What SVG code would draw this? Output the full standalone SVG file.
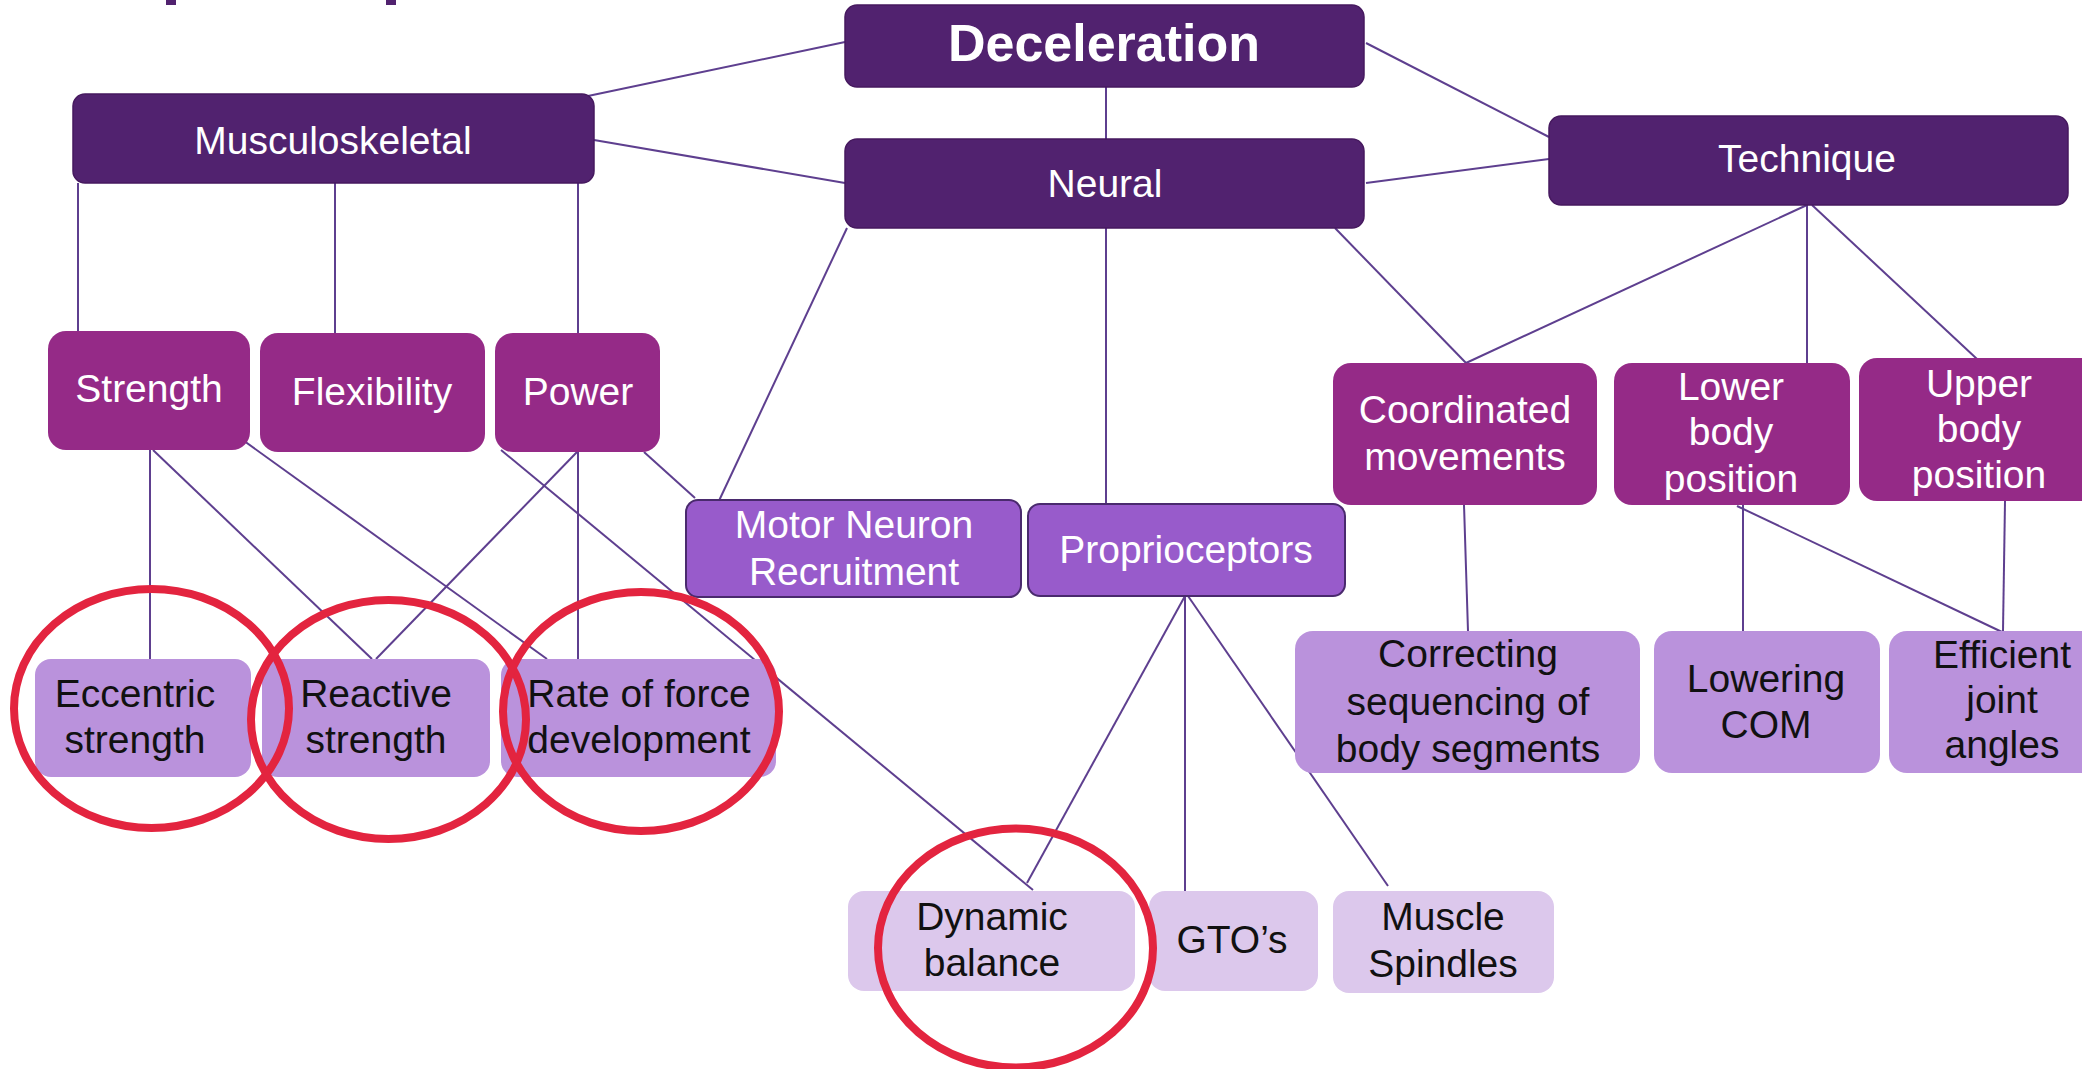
<svg xmlns="http://www.w3.org/2000/svg" width="2082" height="1069" viewBox="0 0 2082 1069">
<style>
  text { font-family: "Liberation Sans", Arial, sans-serif; font-size: 39px; text-anchor: middle; }
  .wt { fill: #ffffff; }
  .bk { fill: #111111; }
  .title { font-size: 52px; font-weight: bold; }
  .dark { fill: #51226F; stroke: #46195f; stroke-width: 1.5; }
  .mag { fill: #952A87; }
  .med { fill: #985BCB; stroke: #4a2a6e; stroke-width: 2; }
  .lt { fill: #BA92DC; }
  .xlt { fill: #DCC8EC; }
  .conn line { stroke: #5E3F8F; stroke-width: 2; }
  .ring { fill: none; stroke: #E3243F; stroke-width: 8; }
</style>
<rect width="2082" height="1069" fill="#ffffff"/>
<rect x="166" y="0" width="10" height="5" fill="#51226F"/>
<rect x="386" y="0" width="10" height="5" fill="#51226F"/>
<g id="connectors" class="conn">
  <line x1="588" y1="96" x2="845" y2="42"/>
  <line x1="594" y1="140" x2="845" y2="183"/>
  <line x1="1106" y1="87" x2="1106" y2="139"/>
  <line x1="1366" y1="43" x2="1549" y2="137"/>
  <line x1="1366" y1="183" x2="1549" y2="159"/>
  <line x1="78" y1="183" x2="78" y2="331"/>
  <line x1="335" y1="183" x2="335" y2="333"/>
  <line x1="578" y1="183" x2="578" y2="333"/>
  <line x1="847" y1="228" x2="717" y2="505"/>
  <line x1="1106" y1="228" x2="1106" y2="504"/>
  <line x1="1335" y1="228" x2="1466" y2="363"/>
  <line x1="1807" y1="205" x2="1466" y2="363"/>
  <line x1="1807" y1="205" x2="1807" y2="363"/>
  <line x1="1812" y1="205" x2="1977" y2="359"/>
  <line x1="150" y1="450" x2="150" y2="659"/>
  <line x1="153" y1="450" x2="372" y2="659"/>
  <line x1="233" y1="433" x2="547" y2="659"/>
  <line x1="577" y1="452" x2="376" y2="659"/>
  <line x1="578" y1="452" x2="578" y2="659"/>
  <line x1="501" y1="450" x2="1033" y2="890"/>
  <line x1="644" y1="452" x2="695" y2="498"/>
  <line x1="1185" y1="596" x2="1027" y2="883"/>
  <line x1="1185" y1="596" x2="1185" y2="891"/>
  <line x1="1188" y1="596" x2="1388" y2="886"/>
  <line x1="1464" y1="505" x2="1468" y2="631"/>
  <line x1="1743" y1="505" x2="1743" y2="631"/>
  <line x1="1737" y1="506" x2="2002" y2="632"/>
  <line x1="2005" y1="501" x2="2003" y2="631"/>
</g>
<g id="deceleration"><rect class="dark" x="845" y="5" width="519" height="82" rx="12"/><text class="wt title" x="1104" y="61">Deceleration</text></g>
<g id="musculoskeletal"><rect class="dark" x="73" y="94" width="521" height="89" rx="12"/><text class="wt" x="333" y="154">Musculoskeletal</text></g>
<g id="neural"><rect class="dark" x="845" y="139" width="519" height="89" rx="12"/><text class="wt" x="1105" y="197">Neural</text></g>
<g id="technique"><rect class="dark" x="1549" y="116" width="519" height="89" rx="12"/><text class="wt" x="1807" y="172">Technique</text></g>
<g id="strength"><rect class="mag" x="48" y="331" width="202" height="119" rx="18"/><text class="wt" x="149" y="402">Strength</text></g>
<g id="flexibility"><rect class="mag" x="260" y="333" width="225" height="119" rx="18"/><text class="wt" x="372" y="405">Flexibility</text></g>
<g id="power"><rect class="mag" x="495" y="333" width="165" height="119" rx="18"/><text class="wt" x="578" y="405">Power</text></g>
<g id="coordinated"><rect class="mag" x="1333" y="363" width="264" height="142" rx="18"/><text class="wt" x="1465" y="423">Coordinated</text><text class="wt" x="1465" y="470">movements</text></g>
<g id="lower-body"><rect class="mag" x="1614" y="363" width="236" height="142" rx="18"/><text class="wt" x="1731" y="400">Lower</text><text class="wt" x="1731" y="445">body</text><text class="wt" x="1731" y="492">position</text></g>
<g id="upper-body"><rect class="mag" x="1859" y="358" width="240" height="143" rx="18"/><text class="wt" x="1979" y="397">Upper</text><text class="wt" x="1979" y="442">body</text><text class="wt" x="1979" y="488">position</text></g>
<g id="motor-neuron"><rect class="med" x="686" y="500" width="335" height="97" rx="12"/><text class="wt" x="854" y="538">Motor Neuron</text><text class="wt" x="854" y="585">Recruitment</text></g>
<g id="proprioceptors"><rect class="med" x="1028" y="504" width="317" height="92" rx="12"/><text class="wt" x="1186" y="563">Proprioceptors</text></g>
<g id="eccentric"><rect class="lt" x="35" y="659" width="216" height="118" rx="16"/><text class="bk" x="135" y="707">Eccentric</text><text class="bk" x="135" y="753">strength</text></g>
<g id="reactive"><rect class="lt" x="262" y="659" width="228" height="118" rx="16"/><text class="bk" x="376" y="707">Reactive</text><text class="bk" x="376" y="753">strength</text></g>
<g id="rate-of-force"><rect class="lt" x="501" y="659" width="275" height="118" rx="16"/><text class="bk" x="639" y="707">Rate of force</text><text class="bk" x="639" y="753">development</text></g>
<g id="correcting"><rect class="lt" x="1295" y="631" width="345" height="142" rx="18"/><text class="bk" x="1468" y="667">Correcting</text><text class="bk" x="1468" y="715">sequencing of</text><text class="bk" x="1468" y="762">body segments</text></g>
<g id="lowering-com"><rect class="lt" x="1654" y="631" width="226" height="142" rx="18"/><text class="bk" x="1766" y="692">Lowering</text><text class="bk" x="1766" y="738">COM</text></g>
<g id="efficient"><rect class="lt" x="1889" y="631" width="230" height="142" rx="18"/><text class="bk" x="2002" y="668">Efficient</text><text class="bk" x="2002" y="713">joint</text><text class="bk" x="2002" y="758">angles</text></g>
<g id="dynamic-balance"><rect class="xlt" x="848" y="891" width="287" height="100" rx="16"/><text class="bk" x="992" y="930">Dynamic</text><text class="bk" x="992" y="976">balance</text></g>
<g id="gtos"><rect class="xlt" x="1149" y="891" width="169" height="100" rx="16"/><text class="bk" x="1232" y="953">GTO’s</text></g>
<g id="muscle-spindles"><rect class="xlt" x="1333" y="891" width="221" height="102" rx="16"/><text class="bk" x="1443" y="930">Muscle</text><text class="bk" x="1443" y="977">Spindles</text></g>
<g id="highlights">
  <ellipse class="ring" cx="151.5" cy="708.5" rx="137.5" ry="119.5"/>
  <ellipse class="ring" cx="388.5" cy="719.5" rx="137.5" ry="119.5"/>
  <ellipse class="ring" cx="641" cy="711.5" rx="138" ry="119.5"/>
  <ellipse class="ring" cx="1015.5" cy="948" rx="137.5" ry="119.5"/>
</g>
</svg>
